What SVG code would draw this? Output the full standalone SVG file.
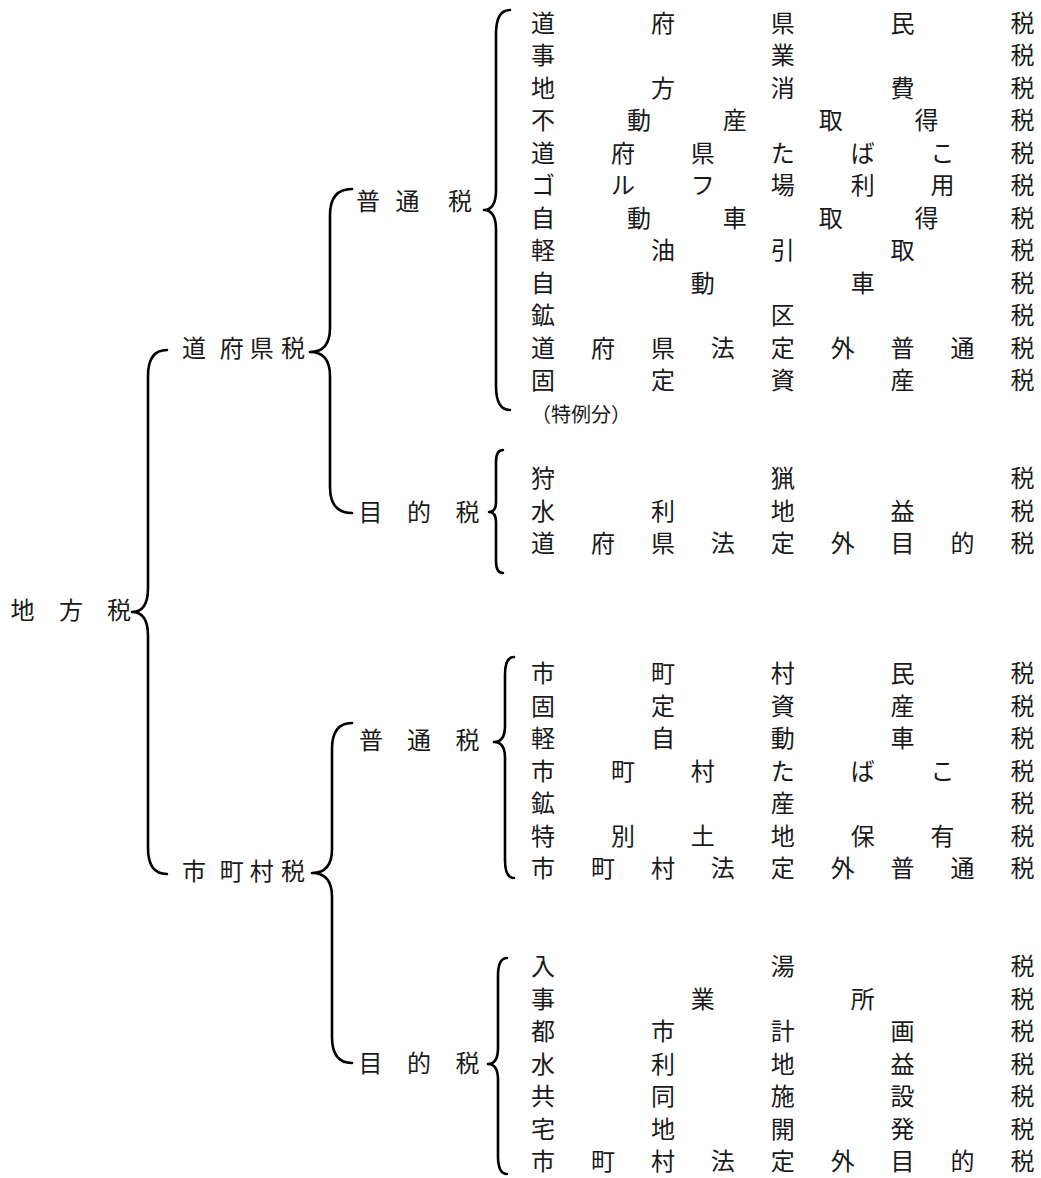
<svg xmlns="http://www.w3.org/2000/svg" width="1041" height="1178" viewBox="0 0 1041 1178">
<style>
text{font-family:"Noto Sans CJK JP","Noto Sans CJK SC",sans-serif;font-size:24px;fill:#1a1a1a;text-anchor:middle}
.note{font-size:20px;text-anchor:start}
.brace{fill:none;stroke:#000;stroke-width:2.6;stroke-linecap:round;stroke-linejoin:round}
</style>
<rect width="1041" height="1178" fill="#fff"/>
<g id="connectors">
<path class="brace" d="M167,350 Q148,350 148,376 L148,588 Q148,612 132,612 Q148,612 148,636 L148,848 Q148,874 167,874"/>
<path class="brace" d="M352,189 Q330,189 330,215 L330,328 Q330,352 310,352 Q330,352 330,376 L330,487 Q330,513 352,513"/>
<path class="brace" d="M352,723 Q332,723 332,749 L332,849 Q332,873 312,873 Q332,873 332,897 L332,1037 Q332,1063 352,1063"/>
<path class="brace" d="M510,10 Q496,10 496,34 L496,190 Q496,210 484,210 Q496,210 496,230 L496,386 Q496,410 510,410"/>
<path class="brace" d="M503,450 Q496,450 496,462 L496,502 Q496,512 489,512 Q496,512 496,522 L496,561 Q496,573 503,573"/>
<path class="brace" d="M514,657 Q505,657 505,675 L505,726 Q505,742 494,742 Q505,742 505,758 L505,860 Q505,878 514,878"/>
<path class="brace" d="M507,958 Q498,958 498,976 L498,1048 Q498,1064 488,1064 Q498,1064 498,1080 L498,1156 Q498,1174 507,1174"/>
</g>
<g id="chihouzei"><text x="22.5 71 119" y="619">地方税</text></g>
<g id="doufukenzei"><text x="194 231.7 261.7 293" y="356.5">道府県税</text></g>
<g id="shichousonzei"><text x="194 231.7 261.7 293" y="880">市町村税</text></g>
<g id="dfk-futsuzei"><text x="368 407.5 460" y="210">普通税</text></g>
<g id="dfk-mokutekizei"><text x="370.5 419 467.5" y="521">目的税</text></g>
<g id="scs-futsuzei"><text x="371 419 467.5" y="749">普通税</text></g>
<g id="scs-mokutekizei"><text x="370.5 419 467.5" y="1072">目的税</text></g>
<g id="dfk-futsu-list">
<text x="543 662.9 782.8 902.6 1022.5" y="31.5">道府県民税</text>
<text x="543 782.8 1022.5" y="64">事業税</text>
<text x="543 662.9 782.8 902.6 1022.5" y="96.5">地方消費税</text>
<text x="543 638.9 734.8 830.7 926.6 1022.5" y="129">不動産取得税</text>
<text x="543 622.9 702.8 782.8 862.7 942.6 1022.5" y="161.5">道府県たばこ税</text>
<text x="543 622.9 702.8 782.8 862.7 942.6 1022.5" y="194">ゴルフ場利用税</text>
<text x="543 638.9 734.8 830.7 926.6 1022.5" y="226.5">自動車取得税</text>
<text x="543 662.9 782.8 902.6 1022.5" y="259">軽油引取税</text>
<text x="543 702.8 862.7 1022.5" y="291.5">自動車税</text>
<text x="543 782.8 1022.5" y="324">鉱区税</text>
<text x="543 602.9 662.9 722.8 782.8 842.7 902.6 962.6 1022.5" y="356.5">道府県法定外普通税</text>
<text x="543 662.9 782.8 902.6 1022.5" y="389">固定資産税</text>
<text class="note" x="531" y="422">（特例分）</text>
</g>
<g id="dfk-mokuteki-list">
<text x="543 782.8 1022.5" y="487">狩猟税</text>
<text x="543 662.9 782.8 902.6 1022.5" y="519.5">水利地益税</text>
<text x="543 602.9 662.9 722.8 782.8 842.7 902.6 962.6 1022.5" y="552">道府県法定外目的税</text>
</g>
<g id="scs-futsu-list">
<text x="543 662.9 782.8 902.6 1022.5" y="682">市町村民税</text>
<text x="543 662.9 782.8 902.6 1022.5" y="714.5">固定資産税</text>
<text x="543 662.9 782.8 902.6 1022.5" y="747">軽自動車税</text>
<text x="543 622.9 702.8 782.8 862.7 942.6 1022.5" y="779.5">市町村たばこ税</text>
<text x="543 782.8 1022.5" y="812">鉱産税</text>
<text x="543 622.9 702.8 782.8 862.7 942.6 1022.5" y="844.5">特別土地保有税</text>
<text x="543 602.9 662.9 722.8 782.8 842.7 902.6 962.6 1022.5" y="877">市町村法定外普通税</text>
</g>
<g id="scs-mokuteki-list">
<text x="543 782.8 1022.5" y="975">入湯税</text>
<text x="543 702.8 862.7 1022.5" y="1007.5">事業所税</text>
<text x="543 662.9 782.8 902.6 1022.5" y="1040">都市計画税</text>
<text x="543 662.9 782.8 902.6 1022.5" y="1072.5">水利地益税</text>
<text x="543 662.9 782.8 902.6 1022.5" y="1105">共同施設税</text>
<text x="543 662.9 782.8 902.6 1022.5" y="1137.5">宅地開発税</text>
<text x="543 602.9 662.9 722.8 782.8 842.7 902.6 962.6 1022.5" y="1170">市町村法定外目的税</text>
</g>
</svg>
